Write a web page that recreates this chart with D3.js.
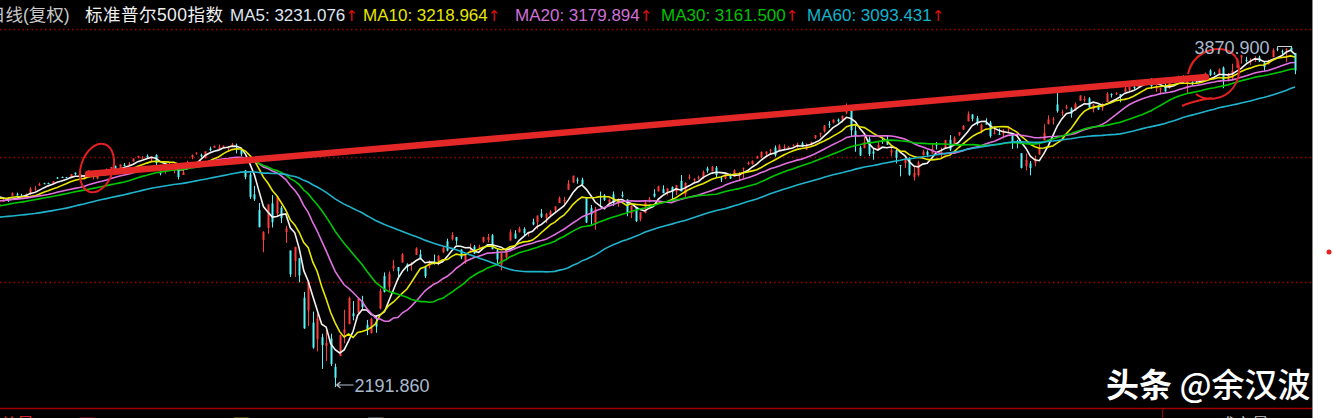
<!DOCTYPE html>
<html><head><meta charset="utf-8">
<script src="https://cdn.jsdelivr.net/npm/d3@7"></script>
<style>html,body{margin:0;padding:0;background:#000;overflow:hidden}</style>
</head><body>
<svg id="c" width="1333" height="418"></svg>
<script>
// closes before the visible window (Sep 6 2019 .. Dec 2 2019), used only for moving averages
const preCloses = [2978.7,2978.4,2979.4,3000.9,3009.6,3007.4,2997.9,3005.7,3006.7,3006.8,2992.1,2991.8,2966.6,2984.9,2977.6,2961.8,2976.7,
2940.3,2887.6,2910.6,2952.0,2938.8,2893.1,2919.4,2938.1,2970.3,2966.2,2995.7,2989.7,2997.9,2986.2,3006.7,2996.0,3004.5,3010.3,3022.6,3039.4,3036.9,3046.8,3037.6,
3066.9,3078.3,3074.6,3076.8,3085.2,3093.1,3087.0,3091.8,3094.0,3096.6,3120.5,3122.0,3120.2,3108.5,3103.5,3110.3,3133.6,3140.5,3153.6,3141.0,
3113.9];

// visible daily candles [open, high, low, close], Dec 3 2019 .. Jan 27 2021
const ohlc = [
// Dec 2019
[3087,3095,3070,3093],[3103,3120,3103,3113],[3119,3120,3103,3117],[3134,3150,3134,3146],[3141,3149,3135,3135],[3135,3143,3126,3132],[3136,3144,3133,3141],[3141,3176,3138,3168],[3167,3182,3158,3169],[3183,3198,3183,3191],[3195,3198,3191,3192],[3196,3198,3191,3191],[3192,3205,3192,3205],[3223,3226,3216,3221],[3226,3228,3221,3224],[3225,3226,3220,3224],[3227,3240,3227,3240],[3247,3248,3235,3240],[3240,3241,3216,3221],[3215,3231,3213,3231],
// Jan 2020
[3245,3258,3235,3258],[3226,3247,3214,3235],[3218,3247,3215,3246],[3242,3245,3233,3237],[3238,3268,3236,3253],[3266,3275,3264,3275],[3281,3282,3260,3265],[3271,3288,3268,3288],[3285,3295,3278,3283],[3283,3299,3281,3289],[3302,3317,3302,3317],[3323,3329,3318,3330],[3321,3329,3316,3321],[3330,3337,3320,3321],[3316,3326,3302,3326],[3334,3338,3283,3295],[3248,3259,3234,3244],[3255,3285,3242,3276],[3289,3294,3271,3273],[3256,3286,3243,3284],[3282,3282,3214,3226],
// Feb 2020
[3236,3268,3236,3249],[3281,3306,3281,3298],[3324,3337,3313,3334],[3344,3347,3335,3346],[3335,3341,3322,3328],[3319,3352,3317,3352],[3366,3375,3352,3358],[3370,3381,3369,3379],[3365,3386,3360,3374],[3378,3381,3369,3380],[3370,3375,3356,3370],[3380,3394,3378,3386],[3380,3390,3342,3373],[3360,3360,3328,3338],[3258,3260,3215,3226],[3238,3247,3118,3128],[3140,3182,3108,3116],[3063,3098,2978,2979],[2916,2959,2855,2954],
// Mar 2020
[2975,3091,2946,3091],[3096,3137,2977,3003],[3046,3131,3034,3131],[3075,3084,2999,3024],[2955,2985,2901,2972],[2864,2863,2734,2747],[2813,2882,2734,2882],[2826,2826,2707,2741],[2631,2660,2478,2481],[2569,2711,2492,2711],[2509,2563,2380,2386],[2426,2553,2367,2529],[2437,2454,2281,2398],[2394,2473,2320,2409],[2431,2454,2295,2305],[2291,2307,2191.86,2237],[2344,2449,2344,2447],[2458,2572,2407,2476],[2501,2637,2501,2630],[2555,2615,2520,2541],[2558,2631,2545,2627],[2614,2641,2572,2585],
// Apr 2020
[2498,2522,2447,2471],[2458,2533,2455,2527],[2514,2538,2459,2489],[2578,2677,2574,2664],[2738,2756,2657,2660],[2685,2761,2664,2750],[2776,2818,2762,2790],[2782,2782,2721,2762],[2805,2851,2805,2846],[2796,2801,2761,2784],[2799,2806,2764,2800],[2842,2880,2842,2875],[2845,2868,2820,2823],[2785,2785,2728,2737],[2787,2815,2776,2799],[2810,2844,2794,2798],[2812,2842,2791,2837],[2855,2887,2852,2878],[2909,2922,2860,2863],[2919,2954,2913,2940],[2930,2931,2892,2912],
// May 2020
[2869,2869,2821,2831],[2815,2844,2798,2843],[2868,2898,2853,2868],[2883,2891,2847,2849],[2879,2893,2870,2882],[2908,2932,2902,2930],[2915,2945,2903,2930],[2939,2945,2870,2870],[2865,2875,2794,2820],[2794,2852,2766,2852],[2829,2865,2816,2864],[2913,2968,2913,2954],[2948,2964,2922,2923],[2953,2981,2953,2972],[2970,2978,2938,2949],[2948,2957,2933,2955],[3005,3021,2988,2992],[3004,3036,2969,3036],[3046,3068,3024,3030],[3025,3049,2999,3044],
// Jun 2020
[3038,3063,3032,3056],[3064,3081,3052,3081],[3098,3130,3098,3122],[3112,3128,3091,3112],[3163,3211,3163,3194],[3199,3233,3196,3232],[3213,3223,3193,3207],[3213,3223,3181,3190],[3123,3123,2999,3002],[3072,3088,2984,3041],[2994,3079,2966,3067],[3131,3154,3076,3125],[3136,3142,3108,3113],[3101,3120,3093,3115],[3140,3155,3083,3098],[3095,3121,3079,3117],[3138,3155,3124,3131],[3115,3116,3033,3050],[3047,3086,3024,3084],[3073,3074,3004,3009],[3018,3054,3007,3053],[3050,3111,3047,3100],
// Jul 2020
[3105,3128,3101,3116],[3144,3166,3125,3130],[3155,3183,3155,3180],[3166,3185,3146,3146],[3154,3169,3136,3170],[3176,3180,3116,3153],[3153,3186,3137,3186],[3206,3236,3156,3155],[3141,3200,3128,3197],[3226,3239,3213,3227],[3209,3220,3198,3216],[3224,3233,3213,3225],[3224,3258,3216,3251],[3268,3277,3247,3257],[3254,3280,3254,3276],[3272,3280,3222,3236],[3219,3228,3201,3216],[3219,3242,3215,3239],[3234,3243,3216,3218],[3227,3264,3227,3258],[3231,3250,3205,3246],[3270,3272,3220,3271],
// Aug 2020
[3289,3302,3284,3295],[3289,3307,3287,3306],[3317,3331,3318,3327],[3324,3352,3318,3349],[3340,3352,3329,3351],[3356,3364,3335,3360],[3370,3381,3326,3333],[3355,3387,3355,3380],[3372,3387,3363,3373],[3368,3378,3362,3373],[3380,3387,3376,3382],[3387,3395,3370,3390],[3392,3400,3375,3375],[3361,3391,3359,3385],[3386,3399,3380,3397],[3419,3432,3413,3431],[3435,3444,3421,3443],[3450,3482,3445,3479],[3486,3501,3468,3484],[3494,3510,3490,3508],[3509,3514,3494,3500],
// Sep 2020
[3507,3528,3494,3527],[3543,3588,3535,3580],[3564,3564,3427,3455],[3453,3479,3350,3427],[3371,3379,3329,3332],[3369,3424,3367,3399],[3412,3425,3329,3339],[3352,3368,3311,3341],[3364,3402,3364,3383],[3407,3419,3389,3401],[3411,3428,3384,3385],[3346,3375,3328,3357],[3357,3362,3293,3320],[3285,3285,3229,3281],[3295,3320,3270,3315],[3320,3323,3232,3237],[3226,3279,3209,3246],[3236,3306,3228,3298],[3333,3360,3333,3351],[3350,3357,3328,3335],[3341,3393,3341,3363],
// Oct 2020
[3385,3398,3361,3381],[3339,3370,3323,3348],[3367,3409,3367,3408],[3409,3432,3354,3361],[3385,3426,3385,3419],[3434,3447,3428,3446],[3459,3482,3458,3477],[3500,3549,3500,3535],[3534,3534,3500,3512],[3515,3527,3480,3489],[3453,3489,3441,3483],[3493,3515,3484,3484],[3494,3502,3419,3427],[3439,3476,3436,3443],[3439,3465,3433,3436],[3439,3461,3416,3453],[3464,3466,3440,3465],[3441,3442,3364,3401],[3404,3409,3367,3391],[3343,3342,3268,3271],[3278,3342,3259,3310],[3293,3305,3234,3270],
// Nov 2020
[3296,3331,3279,3310],[3336,3389,3336,3370],[3406,3486,3406,3443],[3486,3529,3486,3510],[3508,3521,3484,3510],[3583,3646,3543,3551],[3544,3558,3527,3545],[3564,3582,3560,3572],[3563,3569,3518,3537],[3553,3593,3553,3585],[3601,3628,3601,3627],[3610,3624,3594,3610],[3613,3619,3567,3568],[3560,3585,3544,3582],[3580,3581,3556,3558],[3567,3589,3553,3578],[3595,3643,3595,3635],[3635,3638,3617,3629],[3638,3644,3629,3638],[3634,3634,3594,3622],
// Dec 2020
[3645,3678,3645,3662],[3653,3670,3644,3669],[3669,3682,3658,3666],[3670,3699,3670,3699],[3694,3698,3684,3692],[3684,3708,3678,3702],[3706,3712,3660,3673],[3660,3678,3645,3669],[3656,3665,3633,3663],[3675,3698,3645,3647],[3666,3695,3660,3695],[3697,3711,3695,3702],[3714,3725,3711,3722],[3722,3726,3685,3709],[3684,3703,3636,3694],[3694,3698,3676,3687],[3693,3711,3689,3690],[3694,3703,3690,3703],[3723,3740,3723,3735],[3750,3757,3723,3727],[3736,3744,3730,3732],[3733,3760,3726,3756],
// Jan 2021
[3764,3770,3663,3701],[3698,3738,3696,3727],[3713,3784,3705,3748],[3764,3811,3764,3803],[3815,3826,3784,3825],[3803,3818,3789,3799],[3801,3811,3777,3801],[3802,3820,3792,3810],[3815,3823,3792,3795],[3788,3796,3750,3768],[3781,3804,3780,3799],[3816,3860,3816,3852],[3858,3861,3845,3853],[3845,3853,3831,3841],[3852,3860,3791,3855],[3862,3870.9,3847,3849],[3836,3836,3732,3750]
];

const maPeriods = [5, 10, 20, 30, 60];
const maColors = ["#f2f2f2", "#e8e800", "#e070e0", "#00c800", "#1fb4cc"];
const headerLabels = ["MA5: 3231.076", "MA10: 3218.964", "MA20: 3179.894", "MA30: 3161.500", "MA60: 3093.431"];
const headerColors = ["#dfe6f0", "#e6e600", "#d070d8", "#00c000", "#10b4cc"];
const headerX = [230, 363, 515, 661, 807];
const highLabel = "3870.900";
const lowLabel = "2191.860";
const gridValues = [3955, 3324, 2709];

const W = 1333, H = 418, PW = 1312, PH = 407;
const svg = d3.select("#c");
svg.append("rect").attr("width", W).attr("height", H).attr("fill", "#000");

const n = ohlc.length;
const x = d3.scaleLinear().domain([52, 289]).range([232, 1295]);
const y = d3.scaleLinear().domain([2191.86, 3870.9]).range([387, 46]);

svg.append("clipPath").attr("id", "plot").append("rect").attr("x", 0).attr("y", 0).attr("width", PW).attr("height", PH);
const g = svg.append("g").attr("clip-path", "url(#plot)");

// grid lines
g.selectAll("line.grid").data(gridValues).join("line")
  .attr("x1", 0).attr("x2", PW)
  .attr("y1", d => Math.round(y(d)) + 0.5).attr("y2", d => Math.round(y(d)) + 0.5)
  .attr("stroke", "#a00000").attr("stroke-width", 1.3).attr("stroke-dasharray", "1.5,3");

// candles
const cData = ohlc.map((d, i) => ({i, o: d[0], h: d[1], l: d[2], c: d[3]}));
const upC = "#ff3b3b", dnC = "#54f4f8";
const cg = g.append("g");
cg.selectAll("line.wick").data(cData).join("line")
  .attr("x1", d => Math.round(x(d.i)) + 0.5).attr("x2", d => Math.round(x(d.i)) + 0.5)
  .attr("y1", d => y(d.h)).attr("y2", d => y(d.l))
  .attr("stroke", d => d.c >= d.o ? upC : dnC).attr("stroke-width", 1);
cg.selectAll("rect.body").data(cData).join("rect")
  .attr("x", d => Math.round(x(d.i)) - 0.5).attr("width", 2)
  .attr("y", d => y(Math.max(d.o, d.c)))
  .attr("height", d => Math.max(1, Math.abs(y(d.o) - y(d.c))))
  .attr("fill", d => d.c >= d.o ? upC : dnC);

// moving averages
const allCloses = preCloses.concat(ohlc.map(d => d[3]));
const off = preCloses.length;
maPeriods.forEach((p, k) => {
  const pts = d3.range(n).map(i => {
    const j = i + off;
    return {i, v: d3.mean(allCloses.slice(j - p + 1, j + 1))};
  });
  g.append("path").datum(pts)
    .attr("fill", "none").attr("stroke", maColors[k]).attr("stroke-width", 1.6)
    .attr("d", d3.line().x(d => x(d.i)).y(d => y(d.v)));
});

// hand-drawn annotations
g.append("line").attr("x1", 88).attr("y1", 174).attr("x2", 1206).attr("y2", 77)
  .attr("stroke", "#e42828").attr("stroke-width", 6.5).attr("stroke-linecap", "round");
g.append("ellipse").attr("cx", 97).attr("cy", 168).attr("rx", 16).attr("ry", 25)
  .attr("transform", "rotate(18,97,168)")
  .attr("fill", "none").attr("stroke", "#e42020").attr("stroke-width", 2);
g.append("path")
  .attr("d", "M1188,74 C1192,54 1212,46 1226,50 C1242,55 1242,76 1233,88 C1224,100 1206,102 1196,94 M1212,98 C1200,100 1190,102 1182,106")
  .attr("fill", "none").attr("stroke", "#e42020").attr("stroke-width", 2);

// high / low marks
const iHi = d3.maxIndex(ohlc, d => d[1]);
const iLo = d3.minIndex(ohlc, d => d[2]);
const hx = Math.round(x(iHi)) + 0.5, hy = Math.round(y(ohlc[iHi][1])) + 0.5;
g.append("path").attr("d", `M${hx - 14},${hy + 4} L${hx - 14},${hy} L${hx},${hy}`)
  .attr("fill", "none").attr("stroke", "#c8d4e0").attr("stroke-width", 1);
g.append("text").attr("x", hx - 22).attr("y", hy + 7).attr("text-anchor", "end")
  .attr("font-family", "Liberation Sans, Arial, sans-serif").attr("font-size", 18)
  .attr("fill", "#a9b9cc").text(highLabel);
const lx = Math.round(x(iLo)) + 0.5, ly = Math.round(y(ohlc[iLo][2]));
g.append("path").attr("d", `M${lx + 1},${ly - 2} L${lx + 18},${ly - 2} M${lx + 1},${ly - 2} l4,-3 M${lx + 1},${ly - 2} l4,3`)
  .attr("fill", "none").attr("stroke", "#b8c4d0").attr("stroke-width", 1.2);
g.append("text").attr("x", lx + 19).attr("y", ly + 5)
  .attr("font-family", "Liberation Sans, Arial, sans-serif").attr("font-size", 18)
  .attr("fill", "#a9b9cc").text(lowLabel);

// header
const hf = "Liberation Sans, Noto Sans CJK SC, sans-serif";
svg.append("text").attr("x", -12).attr("y", 21).attr("font-family", hf).attr("font-size", 17.5)
  .attr("fill", "#c8c8c8").text("日线(复权)");
svg.append("text").attr("x", 85).attr("y", 21).attr("font-family", hf).attr("font-size", 17.5)
  .attr("fill", "#f0f0f0").attr("textLength", 138).text("标准普尔500指数");
headerLabels.forEach((t, k) => {
  const tx = svg.append("text").attr("x", headerX[k]).attr("y", 21).attr("font-family", hf).attr("font-size", 17);
  tx.append("tspan").attr("fill", headerColors[k]).text(t);
  tx.append("tspan").attr("fill", "#e01010").attr("font-family", "DejaVu Sans").attr("font-size", 15).text("↑");
});

// bottom separator and next panel (cut off)
svg.append("line").attr("x1", 0).attr("x2", PW).attr("y1", 408.5).attr("y2", 408.5)
  .attr("stroke", "#a00000").attr("stroke-width", 1.5);
svg.append("line").attr("x1", 1162.5).attr("x2", 1162.5).attr("y1", 408).attr("y2", H)
  .attr("stroke", "#a00000").attr("stroke-width", 1);
const bt = [["总量", 0, "#ff3030"], ["12.93万", 36, "#ff3030"], ["MAVOL5: 10.42万", 113, "#e6e600"], ["MAVOL10: 12.54万", 238, "#dfe6f0"], ["成交量", 1218, "#c8c8c8"]];
bt.forEach(d => svg.append("text").attr("x", d[1]).attr("y", 431).attr("font-family", hf)
  .attr("font-size", 17).attr("fill", d[2]).text(d[0]));

// watermark
const wm = svg.append("text").attr("x", 1106).attr("y", 397).attr("font-family", "Noto Sans CJK SC")
  .attr("font-size", 33).attr("fill", "#ffffff");
wm.append("tspan").attr("font-weight", 700).text("头条 ");
wm.append("tspan").attr("font-weight", 500).text("@余汉波");

// right white margin
svg.append("rect").attr("x", 1313).attr("y", 0).attr("width", 20).attr("height", H).attr("fill", "#fff");
svg.append("line").attr("x1", 1312.5).attr("x2", 1312.5).attr("y1", 0).attr("y2", H).attr("stroke", "#8a8a8a");
svg.append("circle").attr("cx", 1329).attr("cy", 252).attr("r", 2.5).attr("fill", "#e82020");
</script>
</body></html>
